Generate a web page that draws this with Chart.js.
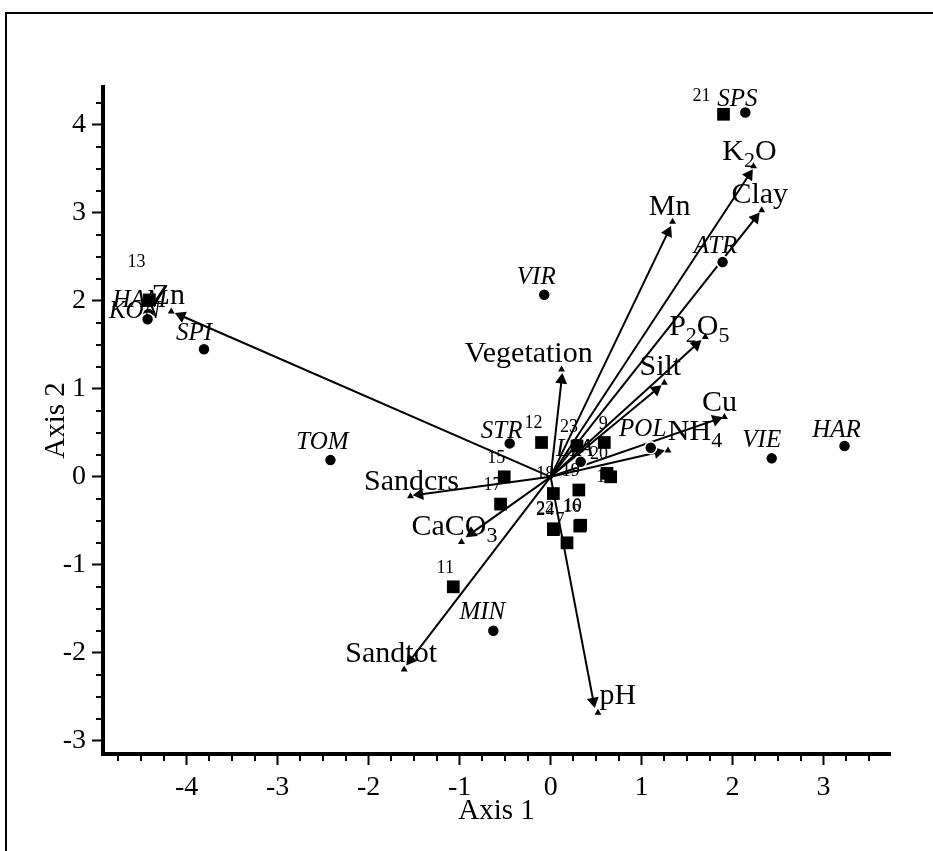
<!DOCTYPE html>
<html>
<head>
<meta charset="utf-8">
<title>Biplot - Axis 1 / Axis 2</title>
<script src="https://cdn.jsdelivr.net/npm/chart.js"></script>
<style>
    body {
        margin: 0;
        background: #fff;
        overflow: hidden;
    }
    #frame {
        position: absolute;
        left: 5px;
        top: 12px;
        width: 1000px;
        height: 1000px;
        border: 2px solid #000;
    }
    #wrap {
        position: absolute;
        left: 0;
        top: 0;
        width: 933px;
        height: 851px;
    }
</style>
</head>
<body>
<div id="frame"></div>
<div id="wrap"><canvas id="biplot" width="933" height="851"></canvas></div>

<script>
// environmental variables: marker position and arrow head position
var varNames = ['K_2O', 'Clay', 'Mn', 'Vegetation', 'P_2O_5', 'Silt', 'Cu', 'NH_4', 'pH', 'Sandtot', 'CaCO_3', 'Sandcrs', 'Zn'];
var varX  = [2.23, 2.32, 1.34, 0.12, 1.70, 1.25, 1.91, 1.29, 0.52, -1.61, -0.98, -1.54, -4.17];
var varY  = [3.53, 3.03, 2.90, 1.22, 1.59, 1.07, 0.68, 0.30, -2.68, -2.19, -0.74, -0.22, 1.88];
var headX = [2.18, 2.25, 1.29, 0.12, 1.60, 1.16, 1.82, 1.18, 0.47, -1.54, -0.87, -1.44, -4.06];
var headY = [3.43, 2.94, 2.78, 1.10, 1.50, 0.99, 0.65, 0.28, -2.55, -2.08, -0.64, -0.20, 1.83];

// sites (circles)
var siteNames = ['SPS', 'ATR', 'VIR', 'HAM', 'KON', 'SPI', 'TOM', 'STR', 'POL', 'VIE', 'HAR', 'MIN', 'LIA'];
var siteX = [2.14, 1.89, -0.07, -4.42, -4.43, -3.81, -2.42, -0.45, 1.10, 2.43, 3.23, -0.63, 0.33];
var siteY = [4.14, 2.44, 2.07, 1.85, 1.79, 1.45, 0.19, 0.38, 0.33, 0.21, 0.35, -1.75, 0.17];

// samples (squares)
var sampleIds = ['21', '13', '12', '15', '17', '11', '23', '9', '18', '19', '1', '22', '24', '10', '16', '7', '20'];
var sampleX = [1.90, -4.41, -0.10, -0.51, -0.55, -1.07, 0.29, 0.59, 0.03, 0.31, 0.66, 0.03, 0.03, 0.33, 0.32, 0.18, 0.62];
var sampleY = [4.12, 2.01, 0.39, 0.00, -0.31, -1.25, 0.35, 0.39, -0.19, -0.15, 0.00, -0.59, -0.60, -0.55, -0.56, -0.75, 0.04];

var xRange = [-4.92, 3.73];
var yRange = [-3.15, 4.43];

// label offsets in pixels (centre of label relative to its mark)
var varLabelOffset = {
    'K_2O': [-4, -14], 'Clay': [-2, -15], 'Mn': [-3, -15], 'Vegetation': [-33, -15],
    'P_2O_5': [-6, -10], 'Silt': [-4, -16], 'Cu': [-5, -14], 'NH_4': [27, -18],
    'pH': [20, -17], 'Sandtot': [-13, -15], 'CaCO_3': [-7, -15], 'Sandcrs': [1, -14], 'Zn': [-3, -15]
};
var siteLabelOffset = {
    'SPS': [-8, -13], 'ATR': [-7, -16], 'VIR': [-8, -17], 'HAM': [-9, -14], 'KON': [-13, -8],
    'SPI': [-10, -16], 'TOM': [-8, -18], 'STR': [-8, -12], 'POL': [-8, -18], 'VIE': [-10, -18],
    'HAR': [-8, -16], 'MIN': [-11, -18], 'LIA': [-6, -12]
};
var sampleLabelOffset = { '21': [-22, -18], '13': [-13, -38], '9': [-1, -18], '7': [-7, -23], '1': [-10, 0] };

var FONT = '"Liberation Serif", "Times New Roman", serif';

function toPoints(xs, ys) {
    return xs.map(function (x, i) { return {x: x, y: ys[i]}; });
}

// text with "_n" subscripts
function drawRich(ctx, text, cx, cy, size, italic) {
    var parts = text.split(/_/);
    var segs = [{t: parts[0], sub: false}];
    for (var i = 1; i < parts.length; i++) {
        segs.push({t: parts[i].charAt(0), sub: true});
        if (parts[i].length > 1) segs.push({t: parts[i].slice(1), sub: false});
    }
    var style = italic ? 'italic ' : '';
    var total = 0;
    segs.forEach(function (s) {
        ctx.font = style + (s.sub ? Math.round(size * 0.72) : size) + 'px ' + FONT;
        s.w = ctx.measureText(s.t).width;
        total += s.w;
    });
    var x = cx - total / 2;
    segs.forEach(function (s) {
        ctx.font = style + (s.sub ? Math.round(size * 0.72) : size) + 'px ' + FONT;
        ctx.fillText(s.t, x, s.sub ? cy + size * 0.3 : cy);
        x += s.w;
    });
}

var labelPlugin = {
    id: 'labels',
    afterDatasetsDraw: function (chart) {
        var ctx = chart.ctx, sx = chart.scales.x, sy = chart.scales.y;
        ctx.save();
        ctx.fillStyle = '#000';
        ctx.textAlign = 'left';
        ctx.textBaseline = 'middle';
        varNames.forEach(function (n, i) {
            var o = varLabelOffset[n];
            drawRich(ctx, n, sx.getPixelForValue(varX[i]) + o[0], sy.getPixelForValue(varY[i]) + o[1], 30, false);
        });
        siteNames.forEach(function (n, i) {
            var o = siteLabelOffset[n];
            drawRich(ctx, n, sx.getPixelForValue(siteX[i]) + o[0], sy.getPixelForValue(siteY[i]) + o[1], 25, true);
        });
        sampleIds.forEach(function (n, i) {
            var o = sampleLabelOffset[n] || [-8, -19];
            drawRich(ctx, n, sx.getPixelForValue(sampleX[i]) + o[0], sy.getPixelForValue(sampleY[i]) + o[1], 18, false);
        });
        ctx.restore();
    }
};

// quarter-unit minor ticks on both axes
var minorTickPlugin = {
    id: 'minorTicks',
    afterDraw: function (chart) {
        var ctx = chart.ctx, sx = chart.scales.x, sy = chart.scales.y, area = chart.chartArea;
        ctx.save();
        ctx.strokeStyle = '#000';
        ctx.lineWidth = 2;
        ctx.beginPath();
        for (var v = Math.ceil(xRange[0] * 4) / 4; v <= xRange[1]; v += 0.25) {
            if (Math.abs(v - Math.round(v)) < 1e-6) continue;
            var px = Math.round(sx.getPixelForValue(v));
            ctx.moveTo(px, area.bottom);
            ctx.lineTo(px, area.bottom + 7);
        }
        for (var w = Math.ceil(yRange[0] * 4) / 4; w <= yRange[1]; w += 0.25) {
            if (Math.abs(w - Math.round(w)) < 1e-6) continue;
            var py = Math.round(sy.getPixelForValue(w));
            ctx.moveTo(area.left, py);
            ctx.lineTo(area.left - 7, py);
        }
        ctx.stroke();
        ctx.restore();
    }
};

function arrowRotation(i) {
    return function (c) {
        var sx = c.chart.scales.x, sy = c.chart.scales.y;
        var dx = sx.getPixelForValue(headX[i]) - sx.getPixelForValue(0);
        var dy = sy.getPixelForValue(headY[i]) - sy.getPixelForValue(0);
        return Math.atan2(dx, -dy) * 180 / Math.PI;
    };
}

var arrowSets = varNames.map(function (n, i) {
    return {
        label: n,
        data: [{x: 0, y: 0}, {x: headX[i], y: headY[i]}],
        showLine: true,
        borderColor: '#000',
        borderWidth: 2,
        backgroundColor: '#000',
        pointStyle: 'triangle',
        pointRadius: function (c) { return c.dataIndex === 1 ? 7 : 0; },
        pointBorderWidth: 0,
        pointRotation: arrowRotation(i),
        order: 5
    };
});

window.onload = function () {
    var ctx = document.getElementById('biplot').getContext('2d');
    new Chart(ctx, {
        type: 'scatter',
        data: {
            datasets: arrowSets.concat([
                {
                    label: 'samples',
                    data: toPoints(sampleX, sampleY),
                    pointStyle: 'rect',
                    pointRadius: 9,
                    backgroundColor: '#000',
                    borderColor: '#fff',
                    borderWidth: 0,
                    order: 3
                },
                {
                    label: 'sites',
                    data: toPoints(siteX, siteY),
                    pointStyle: 'circle',
                    pointRadius: 6,
                    backgroundColor: '#000',
                    borderColor: '#fff',
                    borderWidth: 1.5,
                    order: 2
                },
                {
                    label: 'variables',
                    data: toPoints(varX, varY),
                    pointStyle: 'triangle',
                    pointRadius: 4,
                    backgroundColor: '#000',
                    borderColor: '#000',
                    borderWidth: 0,
                    order: 1
                }
            ])
        },
        options: {
            responsive: false,
            animation: false,
            layout: {padding: {left: 35, top: 87, right: 43, bottom: 18}},
            plugins: {
                legend: {display: false},
                tooltip: {enabled: false}
            },
            scales: {
                x: {
                    type: 'linear',
                    min: xRange[0],
                    max: xRange[1],
                    afterFit: function (s) { s.height = 79; },
                    border: {display: true, color: '#000', width: 4},
                    grid: {drawOnChartArea: false, drawTicks: true, tickLength: 11, tickWidth: 2, tickColor: '#000'},
                    ticks: {
                        stepSize: 1,
                        includeBounds: false,
                        maxRotation: 0,
                        padding: 6,
                        color: '#000',
                        font: {family: FONT, size: 28}
                    },
                    title: {display: true, text: 'Axis 1', color: '#000', font: {family: FONT, size: 29}, padding: {top: 0, bottom: 4}}
                },
                y: {
                    type: 'linear',
                    min: yRange[0],
                    max: yRange[1],
                    afterFit: function (s) { s.width = 68; },
                    border: {display: true, color: '#000', width: 4},
                    grid: {drawOnChartArea: false, drawTicks: true, tickLength: 11, tickWidth: 2, tickColor: '#000'},
                    ticks: {
                        stepSize: 1,
                        includeBounds: false,
                        padding: 6,
                        color: '#000',
                        font: {family: FONT, size: 28}
                    },
                    title: {display: true, text: 'Axis 2', color: '#000', font: {family: FONT, size: 29}, padding: {top: 4, bottom: 0}}
                }
            }
        },
        plugins: [labelPlugin, minorTickPlugin]
    });
};
</script>
</body>
</html>
